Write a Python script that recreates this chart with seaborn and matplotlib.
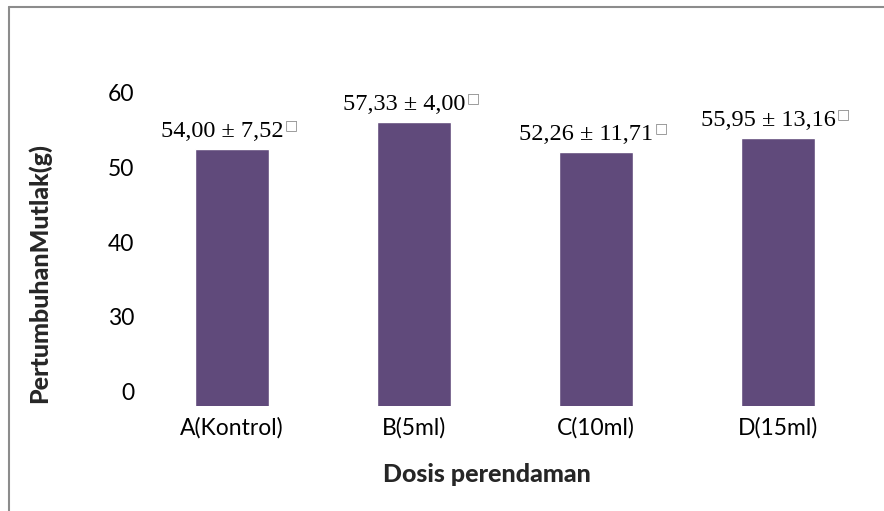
import matplotlib
matplotlib.use("Agg")
import matplotlib.pyplot as plt
import seaborn as sns
import pandas as pd
from matplotlib.lines import Line2D

sns.set_style("white")
plt.rcParams["font.family"] = ["Lato", "DejaVu Sans"]

# Data (bar heights on the drawn axis, labels as printed)
categories = ["A(Kontrol)", "B(5ml)", "C(10ml)", "D(15ml)"]
bar_heights = [52.4, 56.0, 52.0, 53.9]
value_labels = ["54,00 ± 7,52", "57,33 ± 4,00", "52,26 ± 11,71", "55,95 ± 13,16"]
tick_positions = [20, 30, 40, 50, 60]
tick_labels = ["0", "30", "40", "50", "60"]

df = pd.DataFrame({"dosis": categories, "pertumbuhan": bar_heights})

fig = plt.figure(figsize=(8.84, 5.11), dpi=100)
ax = fig.add_axes([0.1595, 0.2055, 0.8235, 0.673])

sns.barplot(data=df, x="dosis", y="pertumbuhan", color="#604A7B",
            width=0.41, saturation=1, ax=ax)

ax.set_ylim(18.13, 64)
ax.set_xlim(-0.5, 3.5)
ax.set_yticks(tick_positions)
ax.set_yticklabels(tick_labels)
ax.tick_params(axis="both", length=0, labelsize=16.5, colors="black")
ax.tick_params(axis="x", pad=8)
ax.tick_params(axis="y", pad=5)
for s in ax.spines.values():
    s.set_visible(False)
ax.set_xlabel("")
ax.set_ylabel("")

# value labels with the small box mark
for i, (h, lab) in enumerate(zip(bar_heights, value_labels)):
    t = ax.annotate(lab, xy=(i, h), xytext=(-7, 5), textcoords="offset points",
                    ha="center", va="bottom", fontsize=17.5,
                    family="Liberation Serif", color="black")
    ax.annotate("\u25a1", xy=(1, 1), xycoords=t, xytext=(1, 2),
                textcoords="offset points", ha="left", va="top",
                fontsize=10, color="#888888", family="DejaVu Sans")

fig.text(0.045, 0.466, "PertumbuhanMutlak(g)", rotation=90, ha="center",
         va="center", fontsize=18, fontweight="black")
fig.text(0.551, 0.071, "Dosis perendaman", ha="center", va="center",
         fontsize=18, fontweight="black")

# chart border (only left and top edges visible)
fig.add_artist(Line2D([0.0102, 0.0102], [0, 0.987], color="#8c8c8c", lw=1.5))
fig.add_artist(Line2D([0.0102, 1.0], [0.987, 0.987], color="#8c8c8c", lw=1.5))

fig.savefig("out.png", dpi=100)
